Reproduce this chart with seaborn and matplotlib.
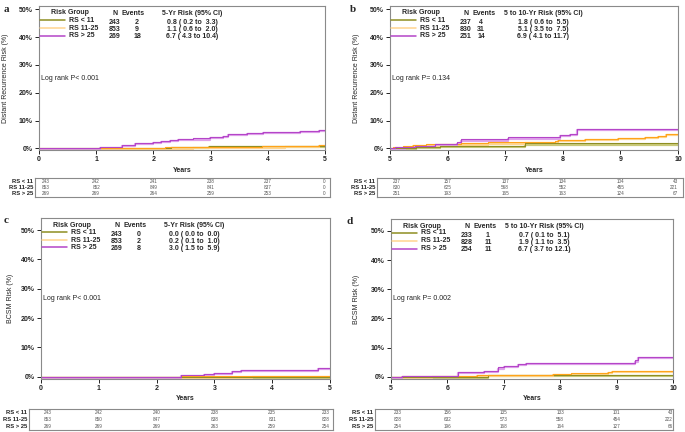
import matplotlib
matplotlib.use("Agg")
import matplotlib.pyplot as plt
import matplotlib.transforms as mtransforms
from matplotlib.lines import Line2D
import seaborn as sns
import pandas as pd

# -----------------------------
# Data
# -----------------------------
groups = ["RS < 11", "RS 11-25", "RS > 25"]

# a: distant recurrence, 0-5 years
a_low_t = [0, 2.3, 2.97, 5.0]
a_low_r = [0, 0.4, 0.8, 0.8]
a_mid_t = [0, 1.1, 1.5, 2.2, 2.7, 3.0, 3.4, 3.9, 4.3, 4.6, 4.9, 5.0]
a_mid_r = [0, 0.1, 0.2, 0.3, 0.4, 0.5, 0.6, 0.7, 0.8, 0.9, 1.1, 1.1]
a_high_t = [0, 1.07, 1.45, 1.68, 2.0, 2.14, 2.29, 2.43, 2.70, 2.99, 3.22, 3.30, 3.63, 3.92, 4.56, 4.90, 5.0]
a_high_r = [0, 0.4, 1.2, 2.0, 2.3, 2.7, 3.0, 3.3, 3.6, 4.0, 4.6, 5.1, 5.5, 5.8, 6.2, 6.7, 6.7]

# b: distant recurrence, 5-10 years
b_low_t = [5.0, 5.46, 5.86, 7.35, 10.0]
b_low_r = [0, 0.5, 1.0, 1.8, 1.8]
b_mid_t = [5.0, 5.06, 5.23, 5.40, 5.63, 5.86, 6.24, 6.70, 7.34, 7.86, 7.92, 8.38, 8.96, 9.42, 9.65, 9.80, 10.0]
b_mid_r = [0, 0.3, 0.7, 1.1, 1.4, 1.6, 1.8, 2.1, 2.3, 2.5, 3.0, 3.3, 3.7, 4.1, 4.6, 5.1, 5.1]
b_high_t = [5.0, 5.09, 5.26, 5.43, 5.78, 6.16, 6.24, 7.05, 7.95, 8.12, 8.24, 10.0]
b_high_r = [0, 0.3, 0.6, 0.9, 1.7, 2.1, 3.2, 3.9, 4.7, 5.3, 6.9, 6.9]

# c: BCSM, 0-5 years
c_low_t = [0, 5.0]
c_low_r = [0, 0]
c_mid_t = [0, 2.42, 3.65, 5.0]
c_mid_r = [0, 0.1, 0.2, 0.2]
c_high_t = [0, 2.42, 2.82, 3.0, 3.31, 3.46, 4.79, 5.0]
c_high_r = [0, 0.5, 1.0, 1.4, 1.9, 2.4, 3.0, 3.0]

# d: BCSM, 5-10 years
d_low_t = [5.0, 6.72, 10.0]
d_low_r = [0, 0.7, 0.7]
d_mid_t = [5.0, 5.20, 5.73, 6.53, 7.87, 8.19, 8.70, 8.85, 8.91, 10.0]
d_mid_r = [0, 0.1, 0.3, 0.7, 0.9, 1.1, 1.4, 1.7, 1.9, 1.9]
d_high_t = [5.0, 5.20, 6.18, 6.65, 6.89, 7.01, 7.25, 7.40, 9.32, 9.38, 10.0]
d_high_r = [0, 0.4, 1.5, 2.0, 3.2, 3.8, 4.3, 4.8, 5.6, 6.7, 6.7]

# legend tables
a_n = [243, 853, 269]
a_events = [2, 9, 18]
a_risk = ["0.8 ( 0.2 to  3.3)", "1.1 ( 0.6 to  2.0)", "6.7 ( 4.3 to 10.4)"]
b_n = [237, 830, 251]
b_events = [4, 31, 14]
b_risk = ["1.8 ( 0.6 to  5.5)", "5.1 ( 3.5 to  7.5)", "6.9 ( 4.1 to 11.7)"]
c_n = [243, 853, 269]
c_events = [0, 2, 8]
c_risk = ["0.0 ( 0.0 to  0.0)", "0.2 ( 0.1 to  1.0)", "3.0 ( 1.5 to  5.9)"]
d_n = [233, 828, 254]
d_events = [1, 11, 11]
d_risk = ["0.7 ( 0.1 to  5.1)", "1.9 ( 1.1 to  3.5)", "6.7 ( 3.7 to 12.1)"]

# numbers at risk
a_atrisk = [[243, 242, 241, 238, 237, 0],
            [853, 852, 849, 841, 837, 0],
            [269, 269, 264, 259, 253, 0]]
b_atrisk = [[237, 157, 137, 134, 104, 43],
            [830, 625, 568, 552, 455, 221],
            [251, 193, 165, 163, 124, 67]]
c_atrisk = [[243, 242, 240, 238, 235, 233],
            [853, 850, 847, 838, 831, 828],
            [269, 269, 269, 263, 259, 254]]
d_atrisk = [[233, 156, 135, 133, 101, 43],
            [828, 632, 573, 558, 454, 222],
            [254, 196, 168, 164, 127, 66]]

# -----------------------------
# Style
# -----------------------------
sns.set_style("ticks")
plt.rcParams["font.family"] = ["Liberation Sans", "DejaVu Sans"]

dark = ["#8e8e22", "#ffa31a", "#b445c8"]
light = ["#c9c97a", "#ffd58f", "#dfa2ea"]
spine_col = "#8a8a8a"

W, H = 685, 432
fig = plt.figure(figsize=(W / 100, H / 100), dpi=100)


def px_axes(l, t, r, b):
    return fig.add_axes([l / W, 1 - b / H, (r - l) / W, (b - t) / H])


def ftext(x, y, s, **kw):
    fig.text(x / W, 1 - y / H, s, **kw)


panels = [
    dict(letter="a", box=(39, 6, 325, 150), ylim=(-0.6, 51.2), x0=0,
         tab=(35, 178, 330, 197), ylab="Distant Recurrence Risk (%)", ylab_x=6,
         curves=[(a_low_t, a_low_r), (a_mid_t, a_mid_r), (a_high_t, a_high_r)],
         n=a_n, ev=a_events, risk=a_risk, ev_dx=98, head="5-Yr Risk (95% CI)",
         logrank="Log rank P< 0.001", atrisk=a_atrisk, let_xy=(6, 9)),
    dict(letter="b", box=(390, 6, 678, 150), ylim=(-0.6, 51.2), x0=5,
         tab=(377, 178, 683, 197), ylab="Distant Recurrence Risk (%)", ylab_x=356,
         curves=[(b_low_t, b_low_r), (b_mid_t, b_mid_r), (b_high_t, b_high_r)],
         n=b_n, ev=b_events, risk=b_risk, ev_dx=91, head="5 to 10-Yr Risk (95% CI)",
         logrank="Log rank P= 0.134", atrisk=b_atrisk, let_xy=(353, 9)),
    dict(letter="c", box=(41, 218, 330, 379), ylim=(-0.8, 54.1), x0=0,
         tab=(29, 409, 333, 430), ylab="BCSM Risk (%)", ylab_x=11,
         curves=[(c_low_t, c_low_r), (c_mid_t, c_mid_r), (c_high_t, c_high_r)],
         n=c_n, ev=c_events, risk=c_risk, ev_dx=98, head="5-Yr Risk (95% CI)",
         logrank="Log rank P< 0.001", atrisk=c_atrisk, let_xy=(6, 220)),
    dict(letter="d", box=(391, 219, 673, 379), ylim=(-0.8, 54.1), x0=5,
         tab=(375, 409, 673, 430), ylab="BCSM Risk (%)", ylab_x=357,
         curves=[(d_low_t, d_low_r), (d_mid_t, d_mid_r), (d_high_t, d_high_r)],
         n=d_n, ev=d_events, risk=d_risk, ev_dx=97, head="5 to 10-Yr Risk (95% CI)",
         logrank="Log rank P= 0.002", atrisk=d_atrisk, let_xy=(350, 222)),
]

for p in panels:
    l, t, r, b = p["box"]
    ax = px_axes(l, t, r, b)
    x0 = p["x0"]

    # step curves: light band slightly below, dark line on top
    shift = mtransforms.offset_copy(ax.transData, fig=fig, x=0, y=-1.2, units="dots")
    for i, (tt, rr) in enumerate(p["curves"]):
        df = pd.DataFrame({"t": tt, "r": rr})
        sns.lineplot(data=df, x="t", y="r", ax=ax, color=light[i], lw=1.6,
                     drawstyle="steps-post", estimator=None, sort=False,
                     legend=False, transform=shift)
    for i, (tt, rr) in enumerate(p["curves"]):
        df = pd.DataFrame({"t": tt, "r": rr})
        sns.lineplot(data=df, x="t", y="r", ax=ax, color=dark[i], lw=0.8,
                     drawstyle="steps-post", estimator=None, sort=False,
                     legend=False)

    ax.set_xlim(x0, x0 + 5)
    ax.set_ylim(*p["ylim"])
    ax.set_xticks(range(x0, x0 + 6))
    ax.set_xticklabels([str(v) for v in range(x0, x0 + 6)], fontsize=5, fontweight="bold")
    ax.set_yticks([0, 10, 20, 30, 40, 50])
    ax.set_yticklabels([f"{v}%" for v in range(0, 60, 10)], fontsize=5, fontweight="bold")
    ax.tick_params(length=3, width=0.7, pad=1.5, colors="#222222")
    ax.set_xlabel("")
    ax.set_ylabel("")
    for s in ax.spines.values():
        s.set_visible(True)
        s.set_color(spine_col)
        s.set_linewidth(0.8)

    ax.text(0.008, 0.5, p["logrank"], transform=ax.transAxes, fontsize=5,
            va="center", ha="left", color="#222222")

    # axis titles
    ftext((l + r) / 2, b + 20, "Years", fontsize=5, fontweight="bold", ha="center", va="center")
    ftext(p["ylab_x"], (t + b) / 2, p["ylab"], fontsize=5, rotation=90, ha="center", va="center")
    ftext(p["let_xy"][0], p["let_xy"][1], p["letter"], fontsize=8, fontweight="bold",
          family="Liberation Serif", ha="center", va="center")

    # legend block
    ftext(l + 31, t + 7, "Risk Group", fontsize=5, fontweight="bold", ha="center", va="center")
    ftext(l + 76, t + 7.5, "N", fontsize=5, fontweight="bold", ha="center", va="center")
    ftext(l + 94.5, t + 7.5, "Events", fontsize=5, fontweight="bold", ha="center", va="center")
    ftext(l + 153, t + 7.5, p["head"], fontsize=5, fontweight="bold", ha="center", va="center")
    row_lab = [14, 22, 29.5]
    row_num = [16.5, 23.3, 30.3]
    for i in range(3):
        yl = t + row_lab[i]
        fig.add_artist(Line2D([(l + 1) / W, (l + 26) / W], [1 - yl / H, 1 - yl / H],
                              color=light[i] if i == 1 else dark[i], lw=1.1,
                              transform=fig.transFigure))
        ftext(l + 30, yl, groups[i], fontsize=5, fontweight="bold", ha="left", va="center")
        yn = t + row_num[i]
        ftext(l + 76, yn, str(p["n"][i]), fontsize=5, fontweight="bold", ha="center", va="center")
        ftext(l + p["ev_dx"], yn, str(p["ev"][i]), fontsize=5, fontweight="bold", ha="center", va="center")
        ftext(l + 153, yn, p["risk"][i], fontsize=5, fontweight="bold", ha="center", va="center")

    # numbers at risk table
    tl, tt_, tr, tb = p["tab"]
    axt = px_axes(tl, tt_, tr, tb)
    axt.set_xticks([])
    axt.set_yticks([])
    for s in axt.spines.values():
        s.set_visible(True)
        s.set_color(spine_col)
        s.set_linewidth(0.8)
    blend = mtransforms.blended_transform_factory(ax.transData, axt.transAxes)
    row_y = [0.82, 0.5, 0.18]
    for i in range(3):
        ftext(tl - 2, tt_ + (1 - row_y[i]) * (tb - tt_), groups[i], fontsize=4.2,
              fontweight="bold", ha="right", va="center", color="#222222")
        for j, v in enumerate(p["atrisk"][i]):
            xv = x0 + j
            ha = "center"
            if j == 0:
                xv = x0 + 0.05
                ha = "left"
            elif j == 5:
                xv = x0 + 5
                ha = "right"
            axt.text(xv, row_y[i], str(v), transform=blend, fontsize=3.3,
                     ha=ha, va="center", color="#555555")

fig.savefig("out.png", dpi=100)
